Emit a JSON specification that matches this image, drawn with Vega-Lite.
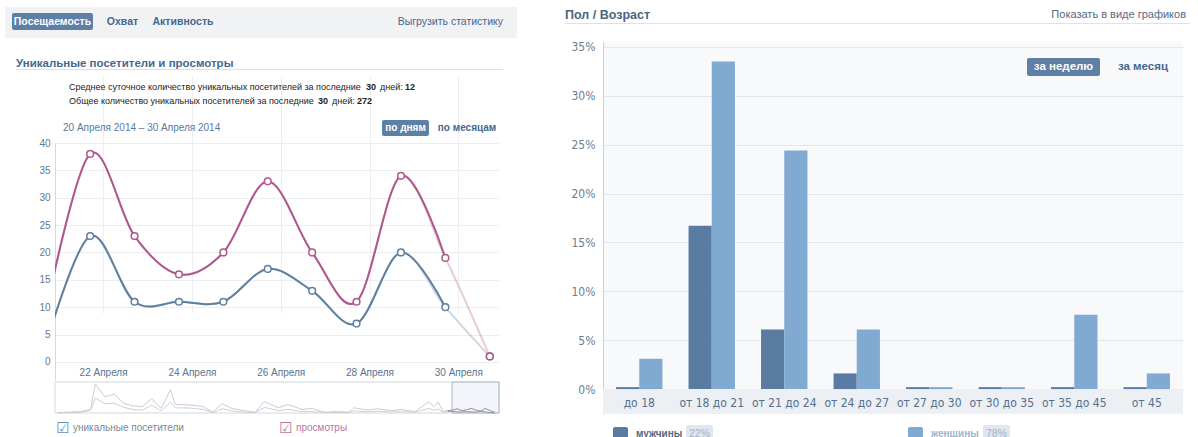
{
  "$schema": "https://vega.github.io/schema/vega-lite/v6.json",
  "background": "#ffffff",
  "padding": {"left": 5, "top": 7, "right": 0, "bottom": 0},
  "autosize": {"type": "pad"},
  "config": {
    "view": {"stroke": null},
    "font": "Liberation Sans",
    "axis": {"labelFont": "Liberation Sans"}
  },
  "datasets": {
    "main": [
      {"date": "2014-04-20T17:00:00Z", "visitors": 3, "views": 9},
      {"date": "2014-04-21T17:00:00Z", "visitors": 23, "views": 38},
      {"date": "2014-04-22T17:00:00Z", "visitors": 11, "views": 23},
      {"date": "2014-04-23T17:00:00Z", "visitors": 11, "views": 16},
      {"date": "2014-04-24T17:00:00Z", "visitors": 11, "views": 20},
      {"date": "2014-04-25T17:00:00Z", "visitors": 17, "views": 33},
      {"date": "2014-04-26T17:00:00Z", "visitors": 13, "views": 20},
      {"date": "2014-04-27T17:00:00Z", "visitors": 7, "views": 11},
      {"date": "2014-04-28T17:00:00Z", "visitors": 20, "views": 34},
      {"date": "2014-04-29T17:00:00Z", "visitors": 10, "views": 19},
      {"date": "2014-04-30T17:00:00Z", "visitors": 1, "views": 1}
    ],
    "nav": [
      {"date": "2014-01-27", "views": 4, "visitors": 0},
      {"date": "2014-02-01", "views": 15, "visitors": 8},
      {"date": "2014-02-03", "views": 38, "visitors": 30},
      {"date": "2014-02-04", "views": 311, "visitors": 161},
      {"date": "2014-02-06", "views": 173, "visitors": 98},
      {"date": "2014-02-08", "views": 199, "visitors": 105},
      {"date": "2014-02-10", "views": 105, "visitors": 60},
      {"date": "2014-02-12", "views": 75, "visitors": 38},
      {"date": "2014-02-14", "views": 68, "visitors": 30},
      {"date": "2014-02-16", "views": 150, "visitors": 83},
      {"date": "2014-02-18", "views": 49, "visitors": 23},
      {"date": "2014-02-20", "views": 248, "visitors": 113},
      {"date": "2014-02-21", "views": 90, "visitors": 56},
      {"date": "2014-02-24", "views": 86, "visitors": 53},
      {"date": "2014-02-27", "views": 68, "visitors": 38},
      {"date": "2014-03-01", "views": 11, "visitors": 4},
      {"date": "2014-03-03", "views": 98, "visitors": 45},
      {"date": "2014-03-05", "views": 49, "visitors": 23},
      {"date": "2014-03-07", "views": 30, "visitors": 11},
      {"date": "2014-03-10", "views": 8, "visitors": 4},
      {"date": "2014-03-12", "views": 120, "visitors": 60},
      {"date": "2014-03-15", "views": 56, "visitors": 26},
      {"date": "2014-03-17", "views": 90, "visitors": 38},
      {"date": "2014-03-20", "views": 38, "visitors": 15},
      {"date": "2014-03-22", "views": 49, "visitors": 15},
      {"date": "2014-03-25", "views": 8, "visitors": 4},
      {"date": "2014-03-27", "views": 15, "visitors": 8},
      {"date": "2014-03-30", "views": 8, "visitors": 4},
      {"date": "2014-03-31", "views": 56, "visitors": 23},
      {"date": "2014-04-03", "views": 30, "visitors": 11},
      {"date": "2014-04-05", "views": 45, "visitors": 19},
      {"date": "2014-04-08", "views": 26, "visitors": 11},
      {"date": "2014-04-10", "views": 38, "visitors": 15},
      {"date": "2014-04-13", "views": 15, "visitors": 8},
      {"date": "2014-04-16", "views": 120, "visitors": 49},
      {"date": "2014-04-17", "views": 68, "visitors": 30},
      {"date": "2014-04-18", "views": 116, "visitors": 41},
      {"date": "2014-04-19", "views": 15, "visitors": 8},
      {"date": "2014-04-20", "views": 26, "visitors": 15},
      {"date": "2014-04-21", "views": 30, "visitors": 19},
      {"date": "2014-04-22", "views": 45, "visitors": 11},
      {"date": "2014-04-23", "views": 26, "visitors": 11},
      {"date": "2014-04-24", "views": 34, "visitors": 15},
      {"date": "2014-04-25", "views": 49, "visitors": 11},
      {"date": "2014-04-26", "views": 30, "visitors": 8},
      {"date": "2014-04-27", "views": 19, "visitors": 19},
      {"date": "2014-04-28", "views": 49, "visitors": 11},
      {"date": "2014-04-29", "views": 26, "visitors": 4},
      {"date": "2014-04-30", "views": 8, "visitors": 2}
    ],
    "bars": [
      {"age": "до 18", "sex": "мужчины", "value": 0.2},
      {"age": "до 18", "sex": "женщины", "value": 3.1},
      {"age": "от 18 до 21", "sex": "мужчины", "value": 16.7},
      {"age": "от 18 до 21", "sex": "женщины", "value": 33.5},
      {"age": "от 21 до 24", "sex": "мужчины", "value": 6.1},
      {"age": "от 21 до 24", "sex": "женщины", "value": 24.4},
      {"age": "от 24 до 27", "sex": "мужчины", "value": 1.6},
      {"age": "от 24 до 27", "sex": "женщины", "value": 6.1},
      {"age": "от 27 до 30", "sex": "мужчины", "value": 0.2},
      {"age": "от 27 до 30", "sex": "женщины", "value": 0.2},
      {"age": "от 30 до 35", "sex": "мужчины", "value": 0.2},
      {"age": "от 30 до 35", "sex": "женщины", "value": 0.2},
      {"age": "от 35 до 45", "sex": "мужчины", "value": 0.2},
      {"age": "от 35 до 45", "sex": "женщины", "value": 7.6},
      {"age": "от 45", "sex": "мужчины", "value": 0.2},
      {"age": "от 45", "sex": "женщины", "value": 1.6}
    ]
  },
  "spacing": 104,
  "bounds": "flush",
  "resolve": {"scale": {"color": "independent"}},
  "hconcat": [
    {
      "width": 444,
      "height": 372,
      "resolve": {"scale": {"x": "independent", "y": "independent", "color": "independent"}},
      "layer": [
        {
          "data": {"values": [{}]},
          "layer": [
            {"mark": {"type": "rect", "fill": "#f1f2f4"},
             "encoding": {"x": {"datum": 5, "type": "quantitative", "scale": {"domain": [55, 499], "nice": false, "zero": false}, "axis": null}, "x2": {"datum": 517},
                          "y": {"datum": 7, "type": "quantitative", "scale": {"domain": [42, 414], "nice": false, "zero": false, "reverse": true}, "axis": null}, "y2": {"datum": 38}}},
            {"mark": {"type": "rect", "fill": "#5e80a7", "cornerRadius": 2},
             "encoding": {"x": {"datum": 12, "type": "quantitative", "scale": {"domain": [55, 499], "nice": false, "zero": false}, "axis": null}, "x2": {"datum": 93},
                          "y": {"datum": 13, "type": "quantitative", "scale": {"domain": [42, 414], "nice": false, "zero": false, "reverse": true}, "axis": null}, "y2": {"datum": 30}}},
            {"mark": {"type": "text", "text": "Посещаемость", "fill": "#ffffff", "fontWeight": "bold", "fontSize": 10.5},
             "encoding": {"x": {"datum": 52.5, "type": "quantitative", "scale": {"domain": [55, 499], "nice": false, "zero": false}, "axis": null},
                          "y": {"datum": 21.5, "type": "quantitative", "scale": {"domain": [42, 414], "nice": false, "zero": false, "reverse": true}, "axis": null}}},
            {"mark": {"type": "text", "text": "Охват", "fill": "#45688e", "fontWeight": "bold", "fontSize": 10.5},
             "encoding": {"x": {"datum": 122.5, "type": "quantitative", "scale": {"domain": [55, 499], "nice": false, "zero": false}, "axis": null},
                          "y": {"datum": 22, "type": "quantitative", "scale": {"domain": [42, 414], "nice": false, "zero": false, "reverse": true}, "axis": null}}},
            {"mark": {"type": "text", "text": "Активность", "fill": "#45688e", "fontWeight": "bold", "fontSize": 10.5},
             "encoding": {"x": {"datum": 183, "type": "quantitative", "scale": {"domain": [55, 499], "nice": false, "zero": false}, "axis": null},
                          "y": {"datum": 22, "type": "quantitative", "scale": {"domain": [42, 414], "nice": false, "zero": false, "reverse": true}, "axis": null}}},
            {"mark": {"type": "text", "text": "Выгрузить статистику", "fill": "#45688e", "fontSize": 10.5, "align": "right"},
             "encoding": {"x": {"datum": 503, "type": "quantitative", "scale": {"domain": [55, 499], "nice": false, "zero": false}, "axis": null},
                          "y": {"datum": 22, "type": "quantitative", "scale": {"domain": [42, 414], "nice": false, "zero": false, "reverse": true}, "axis": null}}},
            {"mark": {"type": "text", "text": "Уникальные посетители и просмотры", "fill": "#45688e", "fontWeight": "bold", "fontSize": 11.5, "align": "left"},
             "encoding": {"x": {"datum": 16, "type": "quantitative", "scale": {"domain": [55, 499], "nice": false, "zero": false}, "axis": null},
                          "y": {"datum": 63.5, "type": "quantitative", "scale": {"domain": [42, 414], "nice": false, "zero": false, "reverse": true}, "axis": null}}},
            {"mark": {"type": "rule", "stroke": "#dae0e7", "strokeWidth": 1},
             "encoding": {"x": {"datum": 16, "type": "quantitative", "scale": {"domain": [55, 499], "nice": false, "zero": false}, "axis": null}, "x2": {"datum": 503},
                          "y": {"datum": 69.5, "type": "quantitative", "scale": {"domain": [42, 414], "nice": false, "zero": false, "reverse": true}, "axis": null}}},
            {"mark": {"type": "text", "text": "Среднее суточное количество уникальных посетителей за последние", "fill": "#222222", "fontSize": 9, "align": "left"},
             "encoding": {"x": {"datum": 69, "type": "quantitative", "scale": {"domain": [55, 499], "nice": false, "zero": false}, "axis": null},
                          "y": {"datum": 86.5, "type": "quantitative", "scale": {"domain": [42, 414], "nice": false, "zero": false, "reverse": true}, "axis": null}}},
            {"mark": {"type": "text", "text": "30", "fill": "#222222", "fontSize": 9, "fontWeight": "bold", "align": "left"},
             "encoding": {"x": {"datum": 366, "type": "quantitative", "scale": {"domain": [55, 499], "nice": false, "zero": false}, "axis": null},
                          "y": {"datum": 86.5, "type": "quantitative", "scale": {"domain": [42, 414], "nice": false, "zero": false, "reverse": true}, "axis": null}}},
            {"mark": {"type": "text", "text": "дней:", "fill": "#222222", "fontSize": 9, "align": "left"},
             "encoding": {"x": {"datum": 380, "type": "quantitative", "scale": {"domain": [55, 499], "nice": false, "zero": false}, "axis": null},
                          "y": {"datum": 86.5, "type": "quantitative", "scale": {"domain": [42, 414], "nice": false, "zero": false, "reverse": true}, "axis": null}}},
            {"mark": {"type": "text", "text": "12", "fill": "#222222", "fontSize": 9, "fontWeight": "bold", "align": "left"},
             "encoding": {"x": {"datum": 405, "type": "quantitative", "scale": {"domain": [55, 499], "nice": false, "zero": false}, "axis": null},
                          "y": {"datum": 86.5, "type": "quantitative", "scale": {"domain": [42, 414], "nice": false, "zero": false, "reverse": true}, "axis": null}}},
            {"mark": {"type": "text", "text": "Общее количество уникальных посетителей за последние", "fill": "#222222", "fontSize": 9, "align": "left"},
             "encoding": {"x": {"datum": 69, "type": "quantitative", "scale": {"domain": [55, 499], "nice": false, "zero": false}, "axis": null},
                          "y": {"datum": 100.5, "type": "quantitative", "scale": {"domain": [42, 414], "nice": false, "zero": false, "reverse": true}, "axis": null}}},
            {"mark": {"type": "text", "text": "30", "fill": "#222222", "fontSize": 9, "fontWeight": "bold", "align": "left"},
             "encoding": {"x": {"datum": 318, "type": "quantitative", "scale": {"domain": [55, 499], "nice": false, "zero": false}, "axis": null},
                          "y": {"datum": 100.5, "type": "quantitative", "scale": {"domain": [42, 414], "nice": false, "zero": false, "reverse": true}, "axis": null}}},
            {"mark": {"type": "text", "text": "дней:", "fill": "#222222", "fontSize": 9, "align": "left"},
             "encoding": {"x": {"datum": 332, "type": "quantitative", "scale": {"domain": [55, 499], "nice": false, "zero": false}, "axis": null},
                          "y": {"datum": 100.5, "type": "quantitative", "scale": {"domain": [42, 414], "nice": false, "zero": false, "reverse": true}, "axis": null}}},
            {"mark": {"type": "text", "text": "272", "fill": "#222222", "fontSize": 9, "fontWeight": "bold", "align": "left"},
             "encoding": {"x": {"datum": 357, "type": "quantitative", "scale": {"domain": [55, 499], "nice": false, "zero": false}, "axis": null},
                          "y": {"datum": 100.5, "type": "quantitative", "scale": {"domain": [42, 414], "nice": false, "zero": false, "reverse": true}, "axis": null}}},
            {"mark": {"type": "text", "text": "20 Апреля 2014 – 30 Апреля 2014", "fill": "#5b7a9c", "fontSize": 10, "align": "left"},
             "encoding": {"x": {"datum": 63, "type": "quantitative", "scale": {"domain": [55, 499], "nice": false, "zero": false}, "axis": null},
                          "y": {"datum": 127.5, "type": "quantitative", "scale": {"domain": [42, 414], "nice": false, "zero": false, "reverse": true}, "axis": null}}},
            {"mark": {"type": "rect", "fill": "#5e80a7", "cornerRadius": 2},
             "encoding": {"x": {"datum": 382, "type": "quantitative", "scale": {"domain": [55, 499], "nice": false, "zero": false}, "axis": null}, "x2": {"datum": 429},
                          "y": {"datum": 120, "type": "quantitative", "scale": {"domain": [42, 414], "nice": false, "zero": false, "reverse": true}, "axis": null}, "y2": {"datum": 136}}},
            {"mark": {"type": "text", "text": "по дням", "fill": "#ffffff", "fontWeight": "bold", "fontSize": 10},
             "encoding": {"x": {"datum": 405.5, "type": "quantitative", "scale": {"domain": [55, 499], "nice": false, "zero": false}, "axis": null},
                          "y": {"datum": 128, "type": "quantitative", "scale": {"domain": [42, 414], "nice": false, "zero": false, "reverse": true}, "axis": null}}},
            {"mark": {"type": "text", "text": "по месяцам", "fill": "#45688e", "fontWeight": "bold", "fontSize": 10},
             "encoding": {"x": {"datum": 467, "type": "quantitative", "scale": {"domain": [55, 499], "nice": false, "zero": false}, "axis": null},
                          "y": {"datum": 128, "type": "quantitative", "scale": {"domain": [42, 414], "nice": false, "zero": false, "reverse": true}, "axis": null}}},
            {"mark": {"type": "rect", "fill": "#ffffff", "stroke": "#d3d9df", "strokeWidth": 1},
             "encoding": {"x": {"datum": 55, "type": "quantitative", "scale": {"domain": [55, 499], "nice": false, "zero": false}, "axis": null}, "x2": {"datum": 499},
                          "y": {"datum": 382, "type": "quantitative", "scale": {"domain": [42, 414], "nice": false, "zero": false, "reverse": true}, "axis": null}, "y2": {"datum": 413}}},
            {"mark": {"type": "text", "text": "☑", "fill": "#6c8db3", "fontSize": 15, "font": "DejaVu Sans"},
             "encoding": {"x": {"datum": 63, "type": "quantitative", "scale": {"domain": [55, 499], "nice": false, "zero": false}, "axis": null},
                          "y": {"datum": 428, "type": "quantitative", "scale": {"domain": [42, 414], "nice": false, "zero": false, "reverse": true}, "axis": null}}},
            {"mark": {"type": "text", "text": "уникальные посетители", "fill": "#7b8796", "fontSize": 10, "align": "left"},
             "encoding": {"x": {"datum": 73, "type": "quantitative", "scale": {"domain": [55, 499], "nice": false, "zero": false}, "axis": null},
                          "y": {"datum": 428, "type": "quantitative", "scale": {"domain": [42, 414], "nice": false, "zero": false, "reverse": true}, "axis": null}}},
            {"mark": {"type": "text", "text": "☑", "fill": "#b9789f", "fontSize": 15, "font": "DejaVu Sans"},
             "encoding": {"x": {"datum": 286, "type": "quantitative", "scale": {"domain": [55, 499], "nice": false, "zero": false}, "axis": null},
                          "y": {"datum": 428, "type": "quantitative", "scale": {"domain": [42, 414], "nice": false, "zero": false, "reverse": true}, "axis": null}}},
            {"mark": {"type": "text", "text": "просмотры", "fill": "#b9789f", "fontSize": 10, "align": "left"},
             "encoding": {"x": {"datum": 296, "type": "quantitative", "scale": {"domain": [55, 499], "nice": false, "zero": false}, "axis": null},
                          "y": {"datum": 428, "type": "quantitative", "scale": {"domain": [42, 414], "nice": false, "zero": false, "reverse": true}, "axis": null}}}
          ]
        },
        {
          "data": {"name": "main"},
          "transform": [{"fold": ["visitors", "views"], "as": ["series", "value"]}],
          "encoding": {
            "x": {"field": "date", "type": "temporal",
                  "scale": {"type": "utc", "domain": [{"year": 2014, "month": "Apr", "date": 20, "hours": 22, "utc": true}, {"year": 2014, "month": "Apr", "date": 30, "hours": 22, "utc": true}]},
                  "axis": {"orient": "bottom", "title": null, "values": [
                    {"year": 2014, "month": "Apr", "date": 22, "utc": true},
                    {"year": 2014, "month": "Apr", "date": 24, "utc": true},
                    {"year": 2014, "month": "Apr", "date": 26, "utc": true},
                    {"year": 2014, "month": "Apr", "date": 28, "utc": true},
                    {"year": 2014, "month": "Apr", "date": 30, "utc": true}],
                    "labelExpr": "utcFormat(datum.value, '%d') + ' Апреля'",
                    "grid": true, "gridColor": "#eceef1", "domain": false, "ticks": false, "tickSize": 0,
                    "labelPadding": -47, "labelColor": "#5a7391", "labelFontSize": 10, "labelFlush": false}},
            "y": {"field": "value", "type": "quantitative",
                  "scale": {"domain": [-3.3, 40], "range": [338, 101], "nice": false, "zero": false},
                  "axis": {"orient": "left", "title": null, "values": [0, 5, 10, 15, 20, 25, 30, 35, 40], "grid": true, "gridColor": "#eceef1",
                           "domain": true, "domainColor": "#d3d9df", "ticks": false, "tickSize": 0, "labelPadding": 5,
                           "labelColor": "#61788f", "labelFontSize": 10}},
            "color": {"field": "series", "type": "nominal", "scale": {"domain": ["visitors", "views"], "range": ["#5f7f9f", "#ae578c"]}, "legend": null}
          },
          "layer": [
            {"mark": {"type": "line", "interpolate": "cardinal", "strokeWidth": 2, "opacity": 0.3, "clip": true}},
            {"transform": [{"filter": "toDate(datum.date) < toDate('2014-04-30T00:00:00Z')"}],
             "mark": {"type": "line", "interpolate": "cardinal", "strokeWidth": 2, "clip": true}},
            {"mark": {"type": "point", "filled": false, "fill": "#ffffff", "size": 45, "strokeWidth": 1.5, "opacity": 1, "clip": true}}
          ]
        },
        {
          "resolve": {"scale": {"color": "independent"}},
          "layer": [
            {"data": {"name": "nav"},
             "transform": [{"fold": ["visitors", "views"], "as": ["series", "value"]}],
             "mark": {"type": "line", "strokeWidth": 1},
             "encoding": {
               "x": {"field": "date", "type": "temporal", "scale": {"type": "utc", "domain": [{"year": 2014, "month": "Jan", "date": 26, "hours": 10, "utc": true}, {"year": 2014, "month": "Apr", "date": 30, "hours": 22, "utc": true}]}, "axis": null},
               "y": {"field": "value", "type": "quantitative", "scale": {"domain": [0, 330], "range": [371, 340], "nice": false, "zero": false}, "axis": null},
               "color": {"field": "series", "type": "nominal", "scale": {"domain": ["visitors", "views"], "range": ["#c9d2dc", "#dcc3d4"]}, "legend": null}
             }},
            {"data": {"values": [{}]},
             "mark": {"type": "rect", "fill": "#e6ecf3", "fillOpacity": 0.5, "stroke": "#aeb8c4", "strokeWidth": 1},
             "encoding": {
               "x": {"datum": {"year": 2014, "month": "Apr", "date": 20, "hours": 22, "utc": true}, "type": "temporal"},
               "x2": {"datum": {"year": 2014, "month": "Apr", "date": 30, "hours": 22, "utc": true}},
               "y": {"datum": 0, "type": "quantitative"},
               "y2": {"datum": 330}
             }},
            {"data": {"name": "nav"},
             "transform": [{"filter": "toDate(datum.date) >= toDate('2014-04-20T00:00:00Z')"}, {"fold": ["visitors", "views"], "as": ["series", "value"]}],
             "mark": {"type": "line", "strokeWidth": 1},
             "encoding": {
               "x": {"field": "date", "type": "temporal"},
               "y": {"field": "value", "type": "quantitative"},
               "color": {"field": "series", "type": "nominal", "scale": {"domain": ["visitors", "views"], "range": ["#8e9db0", "#b58ba8"]}, "legend": null}
             }}
          ]
        }
      ]
    },
    {
      "width": 580,
      "height": 372,
      "view": {"fill": "#f8f9fb"},
      "resolve": {"scale": {"x": "independent", "y": "independent"}},
      "layer": [
        {
          "layer": [
            {"data": {"values": [{}]},
             "mark": {"type": "rect", "fill": "#eceff3"},
             "encoding": {"y": {"datum": -2.55, "type": "quantitative", "scale": {"domain": [-2.55, 35.5], "nice": false, "zero": false}}, "y2": {"datum": 0}}},
            {"data": {"name": "bars"},
             "mark": {"type": "bar"},
             "encoding": {
               "x": {"field": "age", "type": "nominal",
                     "scale": {"domain": ["до 18", "от 18 до 21", "от 21 до 24", "от 24 до 27", "от 27 до 30", "от 30 до 35", "от 35 до 45", "от 45"], "paddingInner": 0.36, "paddingOuter": 0.18},
                     "axis": {"title": null, "domain": false, "ticks": false, "tickSize": 0, "labelPadding": -17, "labelAngle": 0, "zindex": 2,
                              "labelColor": "#56708e", "labelFontSize": 12, "labelFont": "Liberation Sans Narrow, DejaVu Sans Condensed, Liberation Sans"}},
               "xOffset": {"field": "sex", "type": "nominal", "scale": {"domain": ["мужчины", "женщины"]}},
               "y": {"field": "value", "type": "quantitative", "scale": {"domain": [-2.55, 35.5], "nice": false, "zero": false},
                     "axis": {"title": null, "values": [0, 5, 10, 15, 20, 25, 30, 35], "labelExpr": "datum.value + '%'",
                              "grid": true, "gridColor": "#e3e7eb", "domain": true, "domainColor": "#c9d0d8", "ticks": false, "tickSize": 0,
                              "labelPadding": 8, "labelColor": "#6b7d90", "labelFontSize": 12, "labelFont": "Liberation Sans Narrow, DejaVu Sans Condensed, Liberation Sans"}},
               "y2": {"datum": 0},
               "color": {"field": "sex", "type": "nominal", "scale": {"domain": ["мужчины", "женщины"], "range": ["#5a7ca3", "#80aad1"]}, "legend": null}
             }}
          ]
        },
        {
          "data": {"values": [{}]},
          "layer": [
            {"mark": {"type": "text", "text": "Пол / Возраст", "fill": "#4e6580", "fontWeight": "bold", "fontSize": 12.5, "align": "left"},
             "encoding": {"x": {"datum": 565, "type": "quantitative", "scale": {"domain": [603, 1183], "nice": false, "zero": false}, "axis": null},
                          "y": {"datum": 15, "type": "quantitative", "scale": {"domain": [42, 414], "nice": false, "zero": false, "reverse": true}, "axis": null}}},
            {"mark": {"type": "text", "text": "Показать в виде графиков", "fill": "#56697d", "fontSize": 11, "align": "right"},
             "encoding": {"x": {"datum": 1186, "type": "quantitative", "scale": {"domain": [603, 1183], "nice": false, "zero": false}, "axis": null},
                          "y": {"datum": 15, "type": "quantitative", "scale": {"domain": [42, 414], "nice": false, "zero": false, "reverse": true}, "axis": null}}},
            {"mark": {"type": "rule", "stroke": "#dfe3e8", "strokeWidth": 1},
             "encoding": {"x": {"datum": 565, "type": "quantitative", "scale": {"domain": [603, 1183], "nice": false, "zero": false}, "axis": null}, "x2": {"datum": 1190},
                          "y": {"datum": 23.5, "type": "quantitative", "scale": {"domain": [42, 414], "nice": false, "zero": false, "reverse": true}, "axis": null}}},
            {"mark": {"type": "rect", "fill": "#5e80a7", "cornerRadius": 2},
             "encoding": {"x": {"datum": 1027, "type": "quantitative", "scale": {"domain": [603, 1183], "nice": false, "zero": false}, "axis": null}, "x2": {"datum": 1100},
                          "y": {"datum": 58, "type": "quantitative", "scale": {"domain": [42, 414], "nice": false, "zero": false, "reverse": true}, "axis": null}, "y2": {"datum": 76}}},
            {"mark": {"type": "text", "text": "за неделю", "fill": "#ffffff", "fontWeight": "bold", "fontSize": 11.5},
             "encoding": {"x": {"datum": 1063.5, "type": "quantitative", "scale": {"domain": [603, 1183], "nice": false, "zero": false}, "axis": null},
                          "y": {"datum": 67, "type": "quantitative", "scale": {"domain": [42, 414], "nice": false, "zero": false, "reverse": true}, "axis": null}}},
            {"mark": {"type": "text", "text": "за месяц", "fill": "#45688e", "fontWeight": "bold", "fontSize": 11.5},
             "encoding": {"x": {"datum": 1143, "type": "quantitative", "scale": {"domain": [603, 1183], "nice": false, "zero": false}, "axis": null},
                          "y": {"datum": 67, "type": "quantitative", "scale": {"domain": [42, 414], "nice": false, "zero": false, "reverse": true}, "axis": null}}},
            {"mark": {"type": "rect", "fill": "#5a7ca3", "cornerRadius": 2},
             "encoding": {"x": {"datum": 613, "type": "quantitative", "scale": {"domain": [603, 1183], "nice": false, "zero": false}, "axis": null}, "x2": {"datum": 628},
                          "y": {"datum": 427, "type": "quantitative", "scale": {"domain": [42, 414], "nice": false, "zero": false, "reverse": true}, "axis": null}, "y2": {"datum": 442}}},
            {"mark": {"type": "text", "text": "мужчины", "fill": "#55687e", "fontWeight": "bold", "fontSize": 10, "align": "left"},
             "encoding": {"x": {"datum": 636, "type": "quantitative", "scale": {"domain": [603, 1183], "nice": false, "zero": false}, "axis": null},
                          "y": {"datum": 434, "type": "quantitative", "scale": {"domain": [42, 414], "nice": false, "zero": false, "reverse": true}, "axis": null}}},
            {"mark": {"type": "rect", "fill": "#e1e7ee", "cornerRadius": 2},
             "encoding": {"x": {"datum": 686, "type": "quantitative", "scale": {"domain": [603, 1183], "nice": false, "zero": false}, "axis": null}, "x2": {"datum": 713},
                          "y": {"datum": 425, "type": "quantitative", "scale": {"domain": [42, 414], "nice": false, "zero": false, "reverse": true}, "axis": null}, "y2": {"datum": 443}}},
            {"mark": {"type": "text", "text": "22%", "fill": "#9fb4ca", "fontSize": 10.5},
             "encoding": {"x": {"datum": 699.5, "type": "quantitative", "scale": {"domain": [603, 1183], "nice": false, "zero": false}, "axis": null},
                          "y": {"datum": 434, "type": "quantitative", "scale": {"domain": [42, 414], "nice": false, "zero": false, "reverse": true}, "axis": null}}},
            {"mark": {"type": "rect", "fill": "#80aad1", "cornerRadius": 2},
             "encoding": {"x": {"datum": 908, "type": "quantitative", "scale": {"domain": [603, 1183], "nice": false, "zero": false}, "axis": null}, "x2": {"datum": 923},
                          "y": {"datum": 427, "type": "quantitative", "scale": {"domain": [42, 414], "nice": false, "zero": false, "reverse": true}, "axis": null}, "y2": {"datum": 442}}},
            {"mark": {"type": "text", "text": "женщины", "fill": "#9fb4ca", "fontWeight": "bold", "fontSize": 10, "align": "left"},
             "encoding": {"x": {"datum": 931, "type": "quantitative", "scale": {"domain": [603, 1183], "nice": false, "zero": false}, "axis": null},
                          "y": {"datum": 434, "type": "quantitative", "scale": {"domain": [42, 414], "nice": false, "zero": false, "reverse": true}, "axis": null}}},
            {"mark": {"type": "rect", "fill": "#e1e7ee", "cornerRadius": 2},
             "encoding": {"x": {"datum": 983, "type": "quantitative", "scale": {"domain": [603, 1183], "nice": false, "zero": false}, "axis": null}, "x2": {"datum": 1010},
                          "y": {"datum": 425, "type": "quantitative", "scale": {"domain": [42, 414], "nice": false, "zero": false, "reverse": true}, "axis": null}, "y2": {"datum": 443}}},
            {"mark": {"type": "text", "text": "78%", "fill": "#9fb4ca", "fontSize": 10.5},
             "encoding": {"x": {"datum": 996.5, "type": "quantitative", "scale": {"domain": [603, 1183], "nice": false, "zero": false}, "axis": null},
                          "y": {"datum": 434, "type": "quantitative", "scale": {"domain": [42, 414], "nice": false, "zero": false, "reverse": true}, "axis": null}}}
          ]
        }
      ]
    }
  ]
}
